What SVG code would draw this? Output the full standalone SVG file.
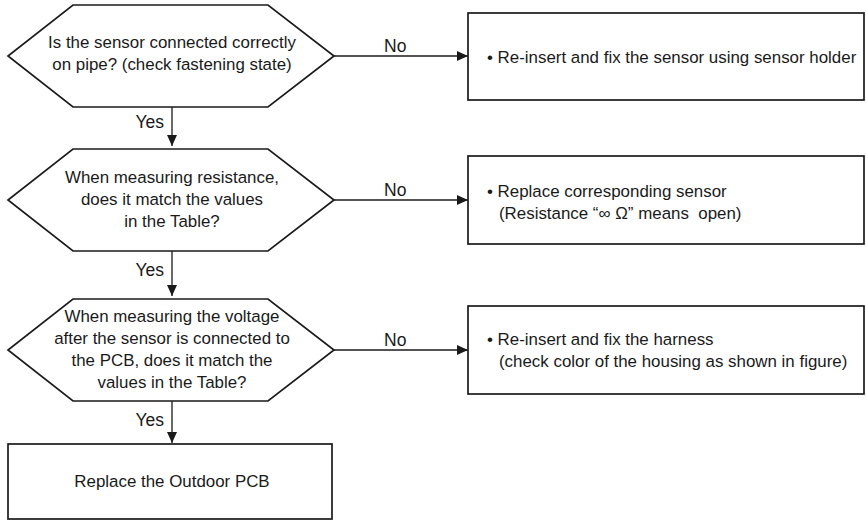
<svg xmlns="http://www.w3.org/2000/svg" width="866" height="521" viewBox="0 0 866 521">
<style>
.shape{fill:#fff;stroke:#1a1a1a;stroke-width:1.7}
.line{fill:none;stroke:#1a1a1a;stroke-width:1.3}
text{font-family:"Liberation Sans",Arial,sans-serif;font-size:16.9px;fill:#1a1a1a}
.c{text-anchor:middle}
.lbl{font-size:17.5px}
.yes{text-anchor:end}
</style>
<defs>
<marker id="ah" markerWidth="11" markerHeight="10" refX="11" refY="5" orient="auto" markerUnits="userSpaceOnUse">
<path d="M0,0 L11,5 L0,10 Z" fill="#1a1a1a"/>
</marker>
</defs>
<rect width="866" height="521" fill="#fff"/>
<g id="connectors">
<line class="line" x1="334" y1="56" x2="468" y2="56" marker-end="url(#ah)"/>
<line class="line" x1="172" y1="107" x2="172" y2="146" marker-end="url(#ah)"/>
<line class="line" x1="334" y1="200" x2="468" y2="200" marker-end="url(#ah)"/>
<line class="line" x1="172" y1="251" x2="172" y2="296" marker-end="url(#ah)"/>
<line class="line" x1="334" y1="350" x2="468" y2="350" marker-end="url(#ah)"/>
<line class="line" x1="172" y1="401" x2="172" y2="443" marker-end="url(#ah)"/>
<text class="lbl" x="384" y="52">No</text>
<text class="lbl" x="384" y="196">No</text>
<text class="lbl" x="384" y="346">No</text>
<text class="lbl yes" x="164" y="128">Yes</text>
<text class="lbl yes" x="164" y="276">Yes</text>
<text class="lbl yes" x="164" y="426">Yes</text>
</g>
<g id="d1">
<polygon class="shape" points="73,5 268,5 334,56 268,107 73,107 8,56"/>
<text class="c" x="172" y="48">Is the sensor connected correctly</text>
<text class="c" x="172" y="70">on pipe? (check fastening state)</text>
</g>
<g id="b1">
<rect class="shape" x="468" y="13" width="396" height="87"/>
<text x="487" y="63">• Re-insert and fix the sensor using sensor holder</text>
</g>
<g id="d2">
<polygon class="shape" points="73,149 268,149 334,200 268,251 73,251 8,200"/>
<text class="c" x="172" y="183">When measuring resistance,</text>
<text class="c" x="172" y="205">does it match the values</text>
<text class="c" x="172" y="227">in the Table?</text>
</g>
<g id="b2">
<rect class="shape" x="468" y="156" width="396" height="88"/>
<text x="487" y="197">• Replace corresponding sensor</text>
<text x="499" y="219">(Resistance “∞ Ω” means&#160; open)</text>
</g>
<g id="d3">
<polygon class="shape" points="73,299 268,299 334,350 268,401 73,401 8,350"/>
<text class="c" x="172" y="322">When measuring the voltage</text>
<text class="c" x="172" y="344">after the sensor is connected to</text>
<text class="c" x="172" y="366">the PCB, does it match the</text>
<text class="c" x="172" y="388">values in the Table?</text>
</g>
<g id="b3">
<rect class="shape" x="468" y="306" width="396" height="88"/>
<text x="487" y="345">• Re-insert and fix the harness</text>
<text x="499" y="367">(check color of the housing as shown in figure)</text>
</g>
<g id="b4">
<rect class="shape" x="8" y="444" width="324" height="75"/>
<text class="c" x="172" y="487">Replace the Outdoor PCB</text>
</g>
</svg>
